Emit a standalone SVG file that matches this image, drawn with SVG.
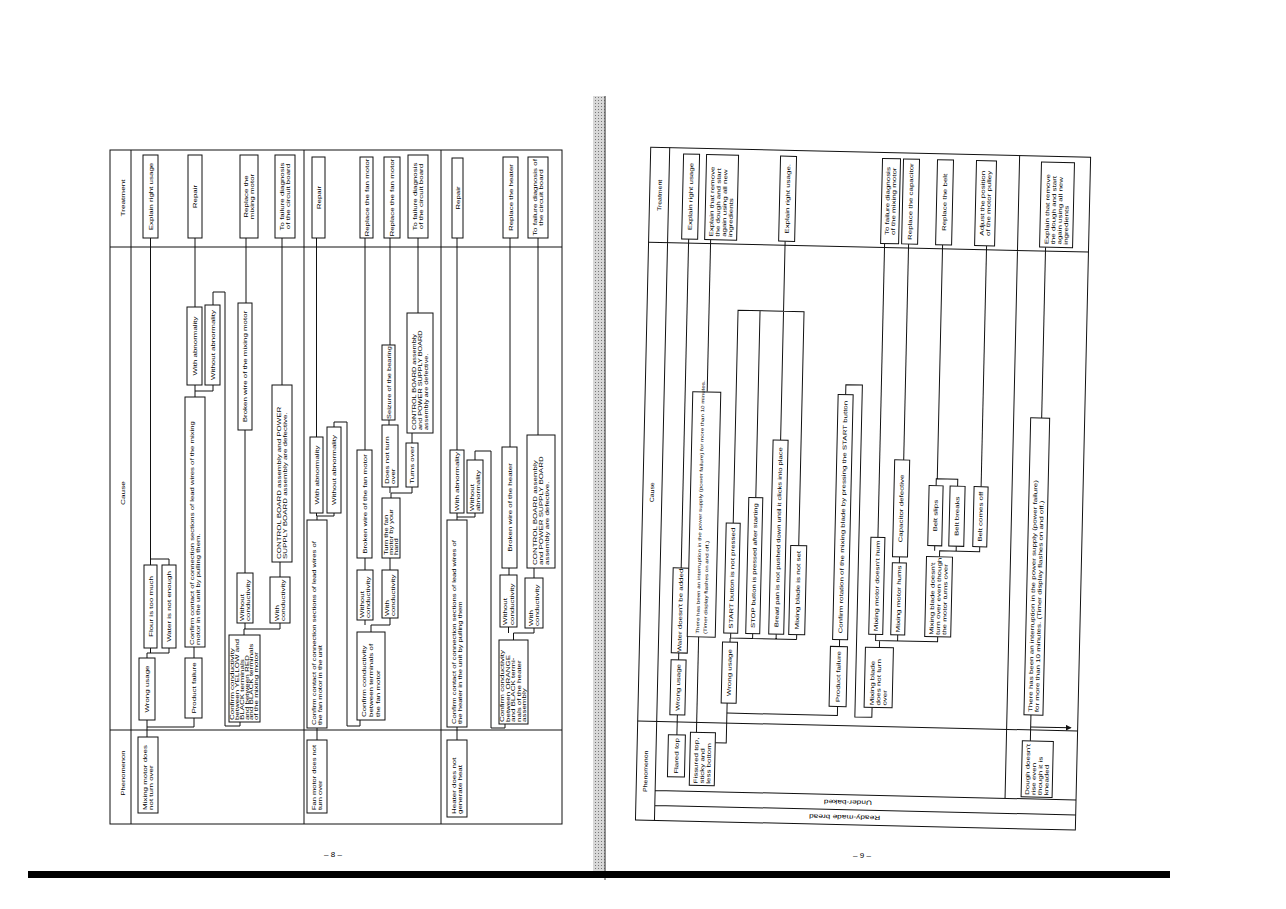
<svg xmlns="http://www.w3.org/2000/svg" width="1286" height="909" viewBox="0 0 1286 909">
<style>
text{font-family:"Liberation Sans",Arial,sans-serif;font-size:5.6px;fill:#000}
.m{text-anchor:middle}
.h{font-size:5.8px}
.d{font-size:4.6px}
.e{font-size:5px}
.pg{font-size:8px}
.nd rect{fill:#fff;stroke:#111;stroke-width:1}
.cn path{fill:none;stroke:#111;stroke-width:1}
.fr{fill:none;stroke:#111;stroke-width:1}
</style>
<defs>
<pattern id="dots" width="3" height="3" patternUnits="userSpaceOnUse">
<rect width="3" height="3" fill="#d8d8d8"/>
<rect x="1" y="1" width="1" height="1" fill="#777"/>
</pattern>
<marker id="ar" markerWidth="6" markerHeight="6" refX="5" refY="3" orient="auto" markerUnits="userSpaceOnUse">
<path d="M0,0 L6,3 L0,6 z" fill="#111"/>
</marker>
</defs>
<rect width="1286" height="909" fill="#fff"/>

<!-- gutter and bottom bar -->
<rect x="593" y="96" width="13" height="776" fill="url(#dots)"/>
<path d="M605 96V880" stroke="#444" stroke-width="1"/>
<rect x="28" y="871" width="1142" height="7" fill="#000"/>
<text class="pg m" x="333" y="857">– 8 –</text>
<text class="pg m" x="862" y="858">– 9 –</text>

<!-- LEFT PAGE -->
<g id="left-frame">
<rect class="fr" x="110" y="150" width="452" height="674"/>
<path class="fr" d="M131 150V824M110 247H562M110 730H562M304 150V824M441 150V824"/>
<text class="h m" transform="translate(123 198) rotate(-90) scale(1.42 1)" y="2">Treatment</text>
<text class="h m" transform="translate(123 493) rotate(-90) scale(1.42 1)" y="2">Cause</text>
<text class="h m" transform="translate(123 773) rotate(-90) scale(1.3 1)" y="2">Phenomenon</text>
</g>

<g id="left-connectors" class="cn">
<path d="M147 737V727H194V718M147 727V720"/>
<path d="M147 658V653H169V648M150.5 653V648"/>
<path d="M169 565V559H150.5V238M150.5 559V565"/>
<path d="M194 658V647"/>
<path d="M195 397V391H213V385M195 391V385"/>
<path d="M195 307V238"/>
<path d="M213 305V292H225V726H240V722"/>
<path d="M244 635V629H280V623M245 629V623"/>
<path d="M245 573V430"/>
<path d="M246 303V238"/>
<path d="M280 577V562"/>
<path d="M282 385V238"/>
<path d="M317 743V728"/>
<path d="M317 520V516H334V513M316.5 516V513"/>
<path d="M316.5 437V238"/>
<path d="M334 427V422H347V726H360V720"/>
<path d="M371 632V625H390V618M365 625V620"/>
<path d="M365 570V558"/>
<path d="M365 450V238"/>
<path d="M390 570V558"/>
<path d="M391 498V493H412V487M390 493V487"/>
<path d="M389 425V420"/>
<path d="M390 345V238"/>
<path d="M412 443V433"/>
<path d="M418 313V238"/>
<path d="M457 740V727"/>
<path d="M457 520V517H475V513M457 517V513"/>
<path d="M457 450V238"/>
<path d="M475 460V451H491V728H505V724"/>
<path d="M513.5 640V633H534V628M508.5 633V627"/>
<path d="M509 575V568"/>
<path d="M510 447V238"/>
<path d="M534 578V568"/>
<path d="M538 435V238"/>
</g>

<g class="nd">
<g id="l-p1"><rect x="138" y="737" width="20" height="76"/><text transform="translate(148 775) rotate(-90) scale(1.42 1)"><tspan x="-24.6" y="-1.1">Mixing motor does</tspan><tspan x="-24.6" y="5.1">not turn over</tspan></text></g>
<g id="l-c1"><rect x="139" y="658" width="16" height="62"/><text class="m" transform="translate(147 689) rotate(-90) scale(1.42 1)" y="2">Wrong usage</text></g>
<g id="l-c2"><rect x="185" y="658" width="17" height="60"/><text class="m" transform="translate(193.5 688) rotate(-90) scale(1.42 1)" y="2">Product failure</text></g>
<g id="l-c3"><rect x="144" y="565" width="13" height="83"/><text class="m" transform="translate(150.5 606.5) rotate(-90) scale(1.42 1)" y="2">Flour is too much</text></g>
<g id="l-c4"><rect x="162" y="565" width="14" height="83"/><text class="m" transform="translate(169 606.5) rotate(-90) scale(1.42 1)" y="2">Water is not enough</text></g>
<g id="l-t1"><rect x="143" y="155" width="15" height="83"/><text class="m" transform="translate(150.5 196.5) rotate(-90) scale(1.42 1)" y="2">Explain right usage</text></g>
<g id="l-c5"><rect x="185" y="397" width="20" height="250"/><text transform="translate(195 522) rotate(-90) scale(1.38 1)"><tspan x="-89.1" y="-1.1">Confirm contact of connection sections of lead wires of the mixing</tspan><tspan x="-89.1" y="5.1">motor in the unit by pulling them.</tspan></text></g>
<g id="l-c6"><rect x="187" y="307" width="15" height="78"/><text class="m" transform="translate(194.5 346) rotate(-90) scale(1.42 1)" y="2">With abnormality</text></g>
<g id="l-c7"><rect x="205" y="305" width="15" height="80"/><text class="m" transform="translate(212.5 345) rotate(-90) scale(1.42 1)" y="2">Without abnormality</text></g>
<g id="l-t2"><rect x="188" y="155" width="14" height="83"/><text class="m" transform="translate(195 196.5) rotate(-90) scale(1.42 1)" y="2">Repair</text></g>
<g id="l-c8"><rect x="229" y="635" width="31" height="87"/><text class="d" transform="translate(244.5 678.5) rotate(-90) scale(1.74 1)"><tspan x="-23.9" y="-10.65">Confirm conductivity</tspan><tspan x="-23.9" y="-5.75">between YELLOW and</tspan><tspan x="-23.9" y="-0.85">BLACK terminals</tspan><tspan x="-23.9" y="4.05">and between RED</tspan><tspan x="-23.9" y="8.95">and BLACK terminals</tspan><tspan x="-23.9" y="13.85">of the mixing motor</tspan></text></g>
<g id="l-c9"><rect x="237" y="573" width="16" height="50"/><text transform="translate(245 598) rotate(-90) scale(1.42 1)"><tspan x="-16.2" y="-1.1">Without</tspan><tspan x="-16.2" y="5.1">conductivity</tspan></text></g>
<g id="l-c10"><rect x="270" y="577" width="20" height="46"/><text transform="translate(280 600) rotate(-90) scale(1.42 1)"><tspan x="-14.8" y="-1.1">With</tspan><tspan x="-14.8" y="5.1">conductivity</tspan></text></g>
<g id="l-c11"><rect x="238" y="303" width="14" height="127"/><text class="m" transform="translate(245 366.5) rotate(-90) scale(1.42 1)" y="2">Broken wire of the mixing motor</text></g>
<g id="l-t3"><rect x="240" y="155" width="18" height="83"/><text class="m" transform="translate(249 196.5) rotate(-90) scale(1.42 1)"><tspan x="0" y="-1.1">Replace the</tspan><tspan x="0" y="5.1">mixing motor</tspan></text></g>
<g id="l-c12"><rect x="272" y="385" width="20" height="177"/><text transform="translate(282 473.5) rotate(-90) scale(1.42 1)"><tspan x="-60.2" y="-1.1">CONTROL BOARD assembly and POWER</tspan><tspan x="-60.2" y="5.1">SUPPLY BOARD assembly are defective.</tspan></text></g>
<g id="l-t4"><rect x="275" y="155" width="20" height="83"/><text class="m" transform="translate(285 196.5) rotate(-90) scale(1.42 1)"><tspan x="0" y="-1.1">To failure diagnosis</tspan><tspan x="0" y="5.1">of the circuit board</tspan></text></g>

<g id="l-p2"><rect x="307" y="740" width="20" height="73"/><text transform="translate(317 776.5) rotate(-90) scale(1.34 1)"><tspan x="-25" y="-1.1">Fan motor does not</tspan><tspan x="-25" y="5.1">turn over</tspan></text></g>
<g id="l-c13"><rect x="307" y="520" width="20" height="208"/><text transform="translate(317 624) rotate(-90) scale(1.36 1)"><tspan x="-74.3" y="-1.1">Confirm contact of connection sections of lead wires of</tspan><tspan x="-74.3" y="5.1">the fan motor in the unit</tspan></text></g>
<g id="l-c14"><rect x="310" y="437" width="13" height="76"/><text class="m" transform="translate(316.5 475) rotate(-90) scale(1.42 1)" y="2">With abnormality</text></g>
<g id="l-c15"><rect x="327" y="427" width="14" height="86"/><text class="m" transform="translate(334 470) rotate(-90) scale(1.42 1)" y="2">Without abnormality</text></g>
<g id="l-t5"><rect x="312" y="157" width="13" height="81"/><text class="m" transform="translate(318.5 197.5) rotate(-90) scale(1.42 1)" y="2">Repair</text></g>
<g id="l-c16"><rect x="357" y="632" width="28" height="88"/><text transform="translate(371 676) rotate(-90) scale(1.42 1)"><tspan x="-28.9" y="-4.6">Confirm conductivity</tspan><tspan x="-28.9" y="2">between terminals of</tspan><tspan x="-28.9" y="8.6">the fan motor</tspan></text></g>
<g id="l-c17"><rect x="357" y="570" width="16" height="50"/><text transform="translate(365 595) rotate(-90) scale(1.42 1)"><tspan x="-16.2" y="-1.1">Without</tspan><tspan x="-16.2" y="5.1">conductivity</tspan></text></g>
<g id="l-c18"><rect x="382" y="570" width="16" height="48"/><text transform="translate(390 594) rotate(-90) scale(1.42 1)"><tspan x="-15.5" y="-1.1">With</tspan><tspan x="-15.5" y="5.1">conductivity</tspan></text></g>
<g id="l-c19"><rect x="357" y="450" width="15" height="108"/><text class="m" transform="translate(364.5 504) rotate(-90) scale(1.42 1)" y="2">Broken wire of the fan motor</text></g>
<g id="l-t6"><rect x="360" y="157" width="13" height="81"/><text class="m" transform="translate(366.5 197.5) rotate(-90) scale(1.42 1)" y="2">Replace the fan motor</text></g>
<g id="l-c20"><rect x="382" y="498" width="18" height="60"/><text class="e" transform="translate(391 528) rotate(-90) scale(1.5 1)"><tspan x="-18" y="-3.3">Turn the fan</tspan><tspan x="-18" y="2">motor by your</tspan><tspan x="-18" y="7.3">hand</tspan></text></g>
<g id="l-c21"><rect x="382" y="425" width="16" height="62"/><text transform="translate(390 456) rotate(-90) scale(1.42 1)"><tspan x="-19.7" y="-1.1">Does not turn</tspan><tspan x="-19.7" y="5.1">over</tspan></text></g>
<g id="l-c22"><rect x="406" y="443" width="12" height="44"/><text class="m" transform="translate(412 465) rotate(-90) scale(1.42 1)" y="2">Turns over</text></g>
<g id="l-c23"><rect x="382" y="345" width="13" height="75"/><text class="m" transform="translate(388.5 382.5) rotate(-90) scale(1.33 1)" y="2">Seizure of the bearing</text></g>
<g id="l-t7"><rect x="384" y="157" width="16" height="81"/><text class="m" transform="translate(392 197.5) rotate(-90) scale(1.42 1)" y="2">Replace the fan motor</text></g>
<g id="l-c24"><rect x="407" y="313" width="26" height="120"/><text transform="translate(420 373) rotate(-90) scale(1.3 1)"><tspan x="-43.8" y="-4.4">CONTROL BOARD assembly</tspan><tspan x="-43.8" y="2">and POWER SUPPLY BOARD</tspan><tspan x="-43.8" y="8.4">assembly are defective.</tspan></text></g>
<g id="l-t8"><rect x="408" y="155" width="20" height="83"/><text class="m" transform="translate(418 196.5) rotate(-90) scale(1.42 1)"><tspan x="0" y="-1.1">To failure diagnosis</tspan><tspan x="0" y="5.1">of the circuit board</tspan></text></g>

<g id="l-p3"><rect x="447" y="740" width="20" height="77"/><text transform="translate(457 778.5) rotate(-90) scale(1.42 1)"><tspan x="-25" y="-1.1">Heater does not</tspan><tspan x="-25" y="5.1">generate heat</tspan></text></g>
<g id="l-c25"><rect x="447" y="520" width="20" height="207"/><text transform="translate(457 623.5) rotate(-90) scale(1.36 1)"><tspan x="-73.9" y="-1.1">Confirm contact of connection sections of lead wires of</tspan><tspan x="-73.9" y="5.1">the heater in the unit by pulling them</tspan></text></g>
<g id="l-c26"><rect x="450" y="450" width="14" height="63"/><text class="m" transform="translate(457 481.5) rotate(-90) scale(1.42 1)" y="2">With abnormality</text></g>
<g id="l-c27"><rect x="467" y="460" width="16" height="53"/><text transform="translate(475 486.5) rotate(-90) scale(1.42 1)"><tspan x="-17.3" y="-1.1">Without</tspan><tspan x="-17.3" y="5.1">abnormality</tspan></text></g>
<g id="l-t9"><rect x="452" y="158" width="11" height="80"/><text class="m" transform="translate(457.5 198) rotate(-90) scale(1.42 1)" y="2">Repair</text></g>
<g id="l-c28"><rect x="499" y="640" width="29" height="84"/><text class="e" transform="translate(513.5 682) rotate(-90) scale(1.6 1)"><tspan x="-25" y="-9.05">Confirm conductivity</tspan><tspan x="-25" y="-3.65">between ORANGE</tspan><tspan x="-25" y="1.75">and BLACK termi-</tspan><tspan x="-25" y="7.15">nals of the heater</tspan><tspan x="-25" y="12.55">assembly</tspan></text></g>
<g id="l-c29"><rect x="500" y="575" width="17" height="52"/><text transform="translate(508.5 601) rotate(-90) scale(1.42 1)"><tspan x="-16.9" y="-1.1">Without</tspan><tspan x="-16.9" y="5.1">conductivity</tspan></text></g>
<g id="l-c30"><rect x="525" y="578" width="18" height="50"/><text transform="translate(534 603) rotate(-90) scale(1.42 1)"><tspan x="-16.2" y="-1.1">With</tspan><tspan x="-16.2" y="5.1">conductivity</tspan></text></g>
<g id="l-c31"><rect x="502" y="447" width="15" height="121"/><text class="m" transform="translate(509.5 507.5) rotate(-90) scale(1.42 1)" y="2">Broken wire of the heater</text></g>
<g id="l-t10"><rect x="503" y="157" width="15" height="81"/><text class="m" transform="translate(510.5 197.5) rotate(-90) scale(1.42 1)" y="2">Replace the heater</text></g>
<g id="l-c32"><rect x="527" y="435" width="28" height="133"/><text transform="translate(541 501.5) rotate(-90) scale(1.42 1)"><tspan x="-44.7" y="-4.4">CONTROL BOARD assembly</tspan><tspan x="-44.7" y="2">and POWER SUPPLY BOARD</tspan><tspan x="-44.7" y="8.4">assembly are defective.</tspan></text></g>
<g id="l-t11"><rect x="528" y="157" width="20" height="81"/><text class="m" transform="translate(538 197.5) rotate(-90) scale(1.42 1)"><tspan x="0" y="-1.1">To failure diagnosis of</tspan><tspan x="0" y="5.1">the circuit board</tspan></text></g>
</g>

<!-- RIGHT PAGE (slightly skewed scan) -->
<g id="right-page" transform="rotate(1.3 860 490)">
<g id="right-frame">
<rect class="fr" x="643" y="152" width="440" height="673"/>
<path class="fr" d="M662 152V825M643 247H1083M643 726H1083M662 795H1083M662 810H1083M1012 152V795"/>
<text class="h m" transform="translate(653 200) rotate(-90) scale(1.2 1)" y="2">Treatment</text>
<text class="h m" transform="translate(652 497) rotate(-90) scale(1.2 1)" y="2">Cause</text>
<text class="h m" transform="translate(652 776) rotate(-90) scale(1.2 1)" y="2">Phenomenon</text>
<text class="m" transform="translate(855 802.5) rotate(180) scale(1.3 1)" y="2.2" style="font-size:6.4px">Under-baked</text>
<text class="m" transform="translate(852 817.5) rotate(180) scale(1.3 1)" y="2.2" style="font-size:6.4px">Ready-made bread</text>
</g>

<g id="right-connectors" class="cn">
<path d="M682.5 739V719"/>
<path d="M682.5 664V657"/>
<path d="M683 572V243"/>
<path d="M705 395V243"/>
<path d="M702 640V736"/>
<path d="M721 746H732V706"/>
<path d="M732 716H842.5V707"/>
<path d="M733.5 645V641M734 641H800M734 641V636M756 641V636M779.5 641V636M800 641V636"/>
<path d="M734 526V313H800V547M756 500V313M779.5 442V243"/>
<path d="M843 647V640"/>
<path d="M843.5 395V385H860V717H877V707"/>
<path d="M879 634V640H941V635M883 640V647M901 640V634"/>
<path d="M879 537V243"/>
<path d="M901 562V556"/>
<path d="M903 459V243"/>
<path d="M941 555V549H981V544M936 549V544M957.5 549V544"/>
<path d="M936 484V477H957.5V484M937 477V243"/>
<path d="M981 484V243"/>
<path d="M1040 414V243"/>
<path d="M1036 737V711"/>
<path d="M1036 723H1076" marker-end="url(#ar)"/>
</g>

<g class="nd">
<g id="r-t1"><rect x="676" y="158" width="16" height="85"/><text class="m" transform="translate(684 200.5) rotate(-90) scale(1.42 1)" y="2">Explain right usage</text></g>
<g id="r-t2"><rect x="699" y="158" width="32" height="85"/><text transform="translate(715 200.5) rotate(-90) scale(1.42 1)"><tspan x="-27.8" y="-7.6">Explain that remove</tspan><tspan x="-27.8" y="-1.2">the dough and start</tspan><tspan x="-27.8" y="5.2">again using all new</tspan><tspan x="-27.8" y="11.6">ingredients</tspan></text></g>
<g id="r-t3"><rect x="773" y="158" width="16" height="85"/><text class="m" transform="translate(781 200.5) rotate(-90) scale(1.42 1)" y="2">Explain right usage.</text></g>
<g id="r-t4"><rect x="875" y="158" width="18" height="85"/><text class="m" transform="translate(884 200.5) rotate(-90) scale(1.42 1)"><tspan x="0" y="-1.1">To failure diagnosis</tspan><tspan x="0" y="5.1">of the mixing motor</tspan></text></g>
<g id="r-t5"><rect x="896" y="158" width="16" height="85"/><text class="m" transform="translate(904 200.5) rotate(-90) scale(1.42 1)" y="2">Replace the capacitor</text></g>
<g id="r-t6"><rect x="930" y="158" width="16" height="85"/><text class="m" transform="translate(938 200.5) rotate(-90) scale(1.42 1)" y="2">Replace the belt</text></g>
<g id="r-t7"><rect x="969" y="158" width="20" height="85"/><text class="m" transform="translate(979 200.5) rotate(-90) scale(1.42 1)"><tspan x="0" y="-1.1">Adjust the position</tspan><tspan x="0" y="5.1">of the motor pulley</tspan></text></g>
<g id="r-t8"><rect x="1034" y="158" width="33" height="85"/><text transform="translate(1050.5 200.5) rotate(-90) scale(1.42 1)"><tspan x="-27.8" y="-7.6">Explain that remove</tspan><tspan x="-27.8" y="-1.2">the dough and start</tspan><tspan x="-27.8" y="5.2">again using all new</tspan><tspan x="-27.8" y="11.6">ingredients</tspan></text></g>

<g id="r-p1"><rect x="674" y="739" width="17" height="42"/><text class="m" transform="translate(682.5 760) rotate(-90) scale(1.42 1)" y="2">Flared top</text></g>
<g id="r-c1"><rect x="675" y="664" width="15" height="55"/><text class="m" transform="translate(682.5 691.5) rotate(-90) scale(1.42 1)" y="2">Wrong usage</text></g>
<g id="r-c2"><rect x="675" y="572" width="16" height="85"/><text class="m" transform="translate(683 614.5) rotate(-90) scale(1.42 1)" y="2">Water doesn't be added</text></g>
<g id="r-c3"><rect x="690.6" y="395.5" width="28" height="245"/><text class="d" transform="translate(704.6 518) rotate(-90) scale(1.35 1)"><tspan x="-88.5" y="-2.2">There has been an interruption in the power supply (power failure) for more than 10 minutes.</tspan><tspan x="-88.5" y="5.4">(Timer display flashes on and off.)</tspan></text></g>
<g id="r-p2"><rect x="696" y="736" width="25" height="53"/><text transform="translate(708.5 762.5) rotate(-90) scale(1.42 1)"><tspan x="-17.3" y="-4.4">Fissured top,</tspan><tspan x="-17.3" y="2">sticky and</tspan><tspan x="-17.3" y="8.4">less bottom</tspan></text></g>
<g id="r-c4"><rect x="726" y="645" width="15" height="61"/><text class="m" transform="translate(733.5 675.5) rotate(-90) scale(1.42 1)" y="2">Wrong usage</text></g>
<g id="r-c5"><rect x="727" y="526" width="14" height="110"/><text class="m" transform="translate(734 581) rotate(-90) scale(1.42 1)" y="2">START button is not pressed</text></g>
<g id="r-c6"><rect x="749" y="500" width="14" height="136"/><text class="m" transform="translate(756 568) rotate(-90) scale(1.36 1)" y="2">STOP button is pressed after starting</text></g>
<g id="r-c7"><rect x="772" y="442" width="15" height="194"/><text class="m" transform="translate(779.5 539) rotate(-90) scale(1.36 1)" y="2">Bread pan is not pushed down until it clicks into place</text></g>
<g id="r-c8"><rect x="792" y="547" width="16" height="89"/><text class="m" transform="translate(800 591.5) rotate(-90) scale(1.42 1)" y="2">Mixing blade is not set</text></g>
<g id="r-c9"><rect x="834" y="647" width="17" height="60"/><text class="m" transform="translate(842.5 677) rotate(-90) scale(1.42 1)" y="2">Product failure</text></g>
<g id="r-c10"><rect x="836" y="395" width="15" height="245"/><text class="m" transform="translate(843.5 517.5) rotate(-90) scale(1.42 1)" y="2">Confirm rotation of the mixing blade by pressing the START button</text></g>
<g id="r-c11"><rect x="869" y="647" width="28" height="60"/><text transform="translate(883 677) rotate(-90) scale(1.42 1)"><tspan x="-19.7" y="-4.4">Mixing blade</tspan><tspan x="-19.7" y="2">does not turn</tspan><tspan x="-19.7" y="8.4">over</tspan></text></g>
<g id="r-c12"><rect x="872" y="537" width="14" height="97"/><text class="m" transform="translate(879 585.5) rotate(-90) scale(1.42 1)" y="2">Mixing motor doesn't hum</text></g>
<g id="r-c13"><rect x="894" y="562" width="14" height="72"/><text class="m" transform="translate(901 598) rotate(-90) scale(1.42 1)" y="2">Mixing motor hums</text></g>
<g id="r-c14"><rect x="928" y="555" width="26" height="80"/><text transform="translate(941 595) rotate(-90) scale(1.42 1)"><tspan x="-26.8" y="-4.4">Mixing blade doesn't</tspan><tspan x="-26.8" y="2">turn over even though</tspan><tspan x="-26.8" y="8.4">the motor turns over</tspan></text></g>
<g id="r-c15"><rect x="894" y="459" width="15" height="97"/><text class="m" transform="translate(901.5 507.5) rotate(-90) scale(1.42 1)" y="2">Capacitor defective</text></g>
<g id="r-c16"><rect x="929" y="484" width="14" height="60"/><text class="m" transform="translate(936 514) rotate(-90) scale(1.42 1)" y="2">Belt slips</text></g>
<g id="r-c17"><rect x="950" y="484" width="15" height="60"/><text class="m" transform="translate(957.5 514) rotate(-90) scale(1.42 1)" y="2">Belt breaks</text></g>
<g id="r-c18"><rect x="974" y="484" width="14" height="60"/><text class="m" transform="translate(981 514) rotate(-90) scale(1.42 1)" y="2">Belt comes off</text></g>
<g id="r-c19"><rect x="1029" y="414" width="19" height="297"/><text transform="translate(1038.5 562.5) rotate(-90) scale(1.42 1)"><tspan x="-102.5" y="-1.3">There has been an interruption in the power supply (power failure)</tspan><tspan x="-102.5" y="5.3">for more than 10 minutes. (Timer display flashes on and off.)</tspan></text></g>
<g id="r-p3"><rect x="1028" y="737" width="31" height="56"/><text transform="translate(1043.5 765) rotate(-90) scale(1.42 1)"><tspan x="-18.3" y="-7.6">Dough doesn't</tspan><tspan x="-18.3" y="-1.2">rise even</tspan><tspan x="-18.3" y="5.2">though it is</tspan><tspan x="-18.3" y="11.6">kneaded</tspan></text></g>
</g>
</g>
</svg>
